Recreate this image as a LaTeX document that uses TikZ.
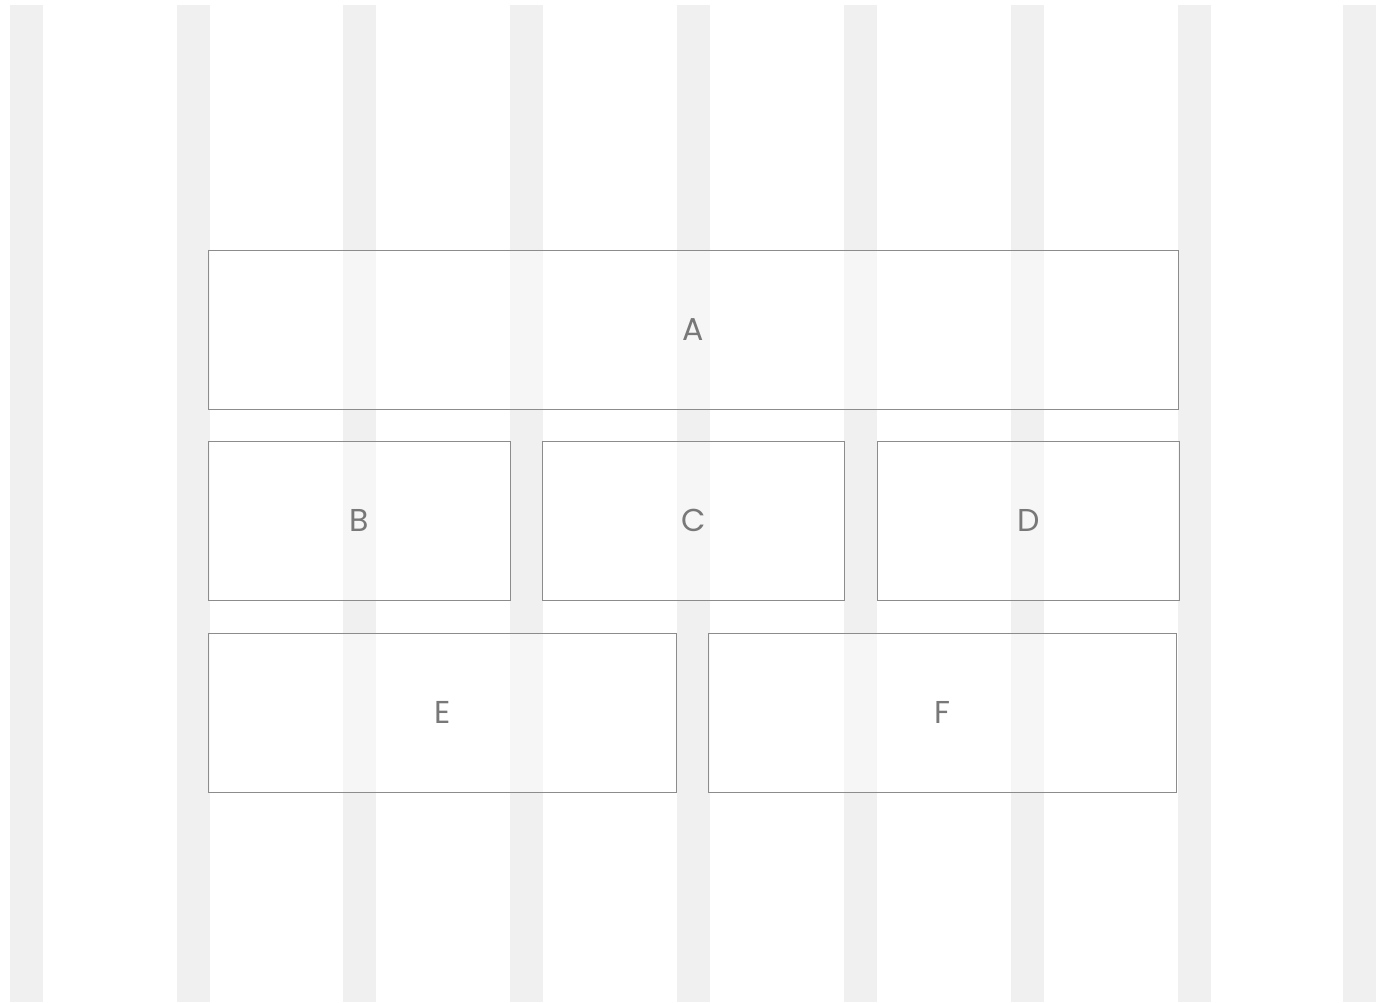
\documentclass[tikz,border=0pt]{standalone}
\usepackage{fontspec}
\setmainfont{Poppins}
\usepackage{xcolor}
\usepackage{tikz}
\usetikzlibrary{positioning}

\definecolor{stripegray}{HTML}{F0F0F0}
\definecolor{boxline}{HTML}{8C8C8C}
\definecolor{labelgray}{HTML}{787878}

\begin{document}
\begin{tikzpicture}[
  x=0.02cm, y=-0.02cm,
  node distance=0.62cm,
  stripe/.style={fill=stripegray, draw=none},
  panel/.style={rectangle, draw=boxline, line width=0.6pt, fill=white, fill opacity=0.4, text opacity=1,
    text=labelgray, font=\fontsize{18}{20}\selectfont, align=center, minimum height=3.18cm, inner sep=0pt},
  widebox/.style={panel, minimum width=19.4cm},
  thirdbox/.style={panel, minimum width=6.04cm},
  halfbox/.style={panel, minimum width=9.36cm}
]
\useasboundingbox (0,0) rectangle (1387,1002);

% background columns
\foreach \col in {10,176.5,343,510,677,844,1011,1178,1343}
  \fill[stripe] (\col,5) rectangle ++(33,997);

\node[widebox] (A) at (693.25,329.75) {A};
\node[thirdbox, below=of A.south west, anchor=north west] (B) {B};
\node[thirdbox, right=0.63cm of B] (C) {C};
\node[thirdbox, right=0.63cm of C] (D) {D};
\node[halfbox, below=0.64cm of B.south west, anchor=north west] (E) {E};
\node[halfbox, right=0.63cm of E] (F) {F};

\end{tikzpicture}
\end{document}
